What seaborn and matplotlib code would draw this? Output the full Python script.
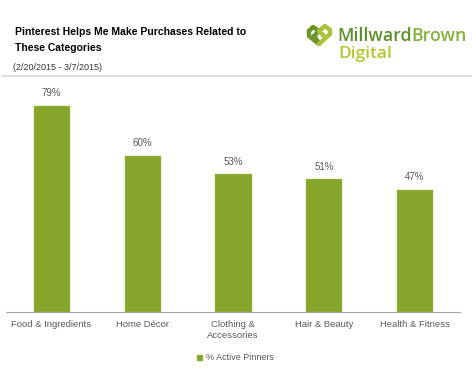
import matplotlib
matplotlib.use("Agg")
import matplotlib.pyplot as plt
import seaborn as sns
import pandas as pd
from matplotlib.lines import Line2D

# ===============================
# Data
# ===============================
categories = ["Food & Ingredients", "Home Décor", "Clothing &\nAccessories",
              "Hair & Beauty", "Health & Fitness"]
values = [79, 60, 53, 51, 47]
series_name = "% Active Pinners"

bar_color = "#86a62b"
text_gray = "#595959"

sns.set_style("white")
plt.rcParams["font.family"] = ["Liberation Sans", "DejaVu Sans"]

df = pd.DataFrame({"category": categories, "value": values})

fig = plt.figure(figsize=(4.72, 3.71), dpi=100)
ax = fig.add_axes([6 / 472, 1 - 312 / 371, 454 / 472, 232 / 371])

sns.barplot(data=df, x="category", y="value", color=bar_color, saturation=1, width=0.41,
            edgecolor="#eef2dc", linewidth=0.8, label=series_name, ax=ax)

ax.set_ylim(0, 88.5)
ax.set_xlim(-0.5, len(categories) - 0.5)
ax.set_xlabel("")
ax.set_ylabel("")
ax.set_yticks([])
for s in ["top", "right", "left"]:
    ax.spines[s].set_visible(False)
ax.spines["bottom"].set_color("#a6a6a6")
ax.spines["bottom"].set_linewidth(0.8)

# category separators as ticks
ax.set_xticks([i - 0.5 for i in range(len(categories) + 1)], minor=True)
ax.tick_params(axis="x", which="minor", length=4, color="#a6a6a6", width=0.8, direction="in")
ax.tick_params(axis="x", which="major", length=0, pad=6, labelsize=6.8, labelcolor=text_gray)

for i, v in enumerate(values):
    ax.text(i, v + 2.5, f"{v}%", ha="center", va="bottom", fontsize=7, color=text_gray)

leg = ax.legend(loc="center", bbox_to_anchor=(229 / 454, -46 / 232), frameon=False,
                fontsize=6.5, handlelength=0.8, handleheight=0.8, handletextpad=0.3,
                borderpad=0)
for t in leg.get_texts():
    t.set_color(text_gray)

# ===============================
# Header
# ===============================
fig.text(15 / 472, 1 - 32 / 371, "Pinterest Helps Me Make Purchases Related to",
         fontsize=7.5, fontweight="bold", color="black", va="center")
fig.text(15 / 472, 1 - 48 / 371, "These Categories",
         fontsize=7.5, fontweight="bold", color="black", va="center")
fig.text(13 / 472, 1 - 68 / 371, "(2/20/2015 - 3/7/2015)",
         fontsize=6.5, color="#333333", va="center")

fig.add_artist(Line2D([2 / 472, 1], [1 - 76 / 371, 1 - 76 / 371],
                      color="#d9d9d9", linewidth=1.2))


# logo icon (rough heart shape)
def px(x, y):
    return x / 472, 1 - y / 371


xs, ys = zip(*[px(x, y) for x, y in [(309, 31), (313, 27), (319, 31), (314, 36), (319, 43)]])
fig.add_artist(Line2D(xs, ys, color="#6a962b", linewidth=3.2, solid_capstyle="round",
                      solid_joinstyle="round"))
xs, ys = zip(*[px(x, y) for x, y in [(309, 31), (309, 36), (319, 44)]])
fig.add_artist(Line2D(xs, ys, color="#6a962b", linewidth=3.2, solid_capstyle="round"))
xs, ys = zip(*[px(x, y) for x, y in [(319, 44), (330, 34), (330, 30), (325, 26), (319, 31), (324, 36)]])
fig.add_artist(Line2D(xs, ys, color="#a9c23a", linewidth=3.2, solid_capstyle="round",
                      solid_joinstyle="round"))

t1 = fig.text(337 / 472, 1 - 36 / 371, "Millward", fontsize=12.8, fontfamily="Open Sans",
              fontweight="semibold", color="#5e8f2c", va="center")
fig.canvas.draw()
bb = t1.get_window_extent()
fig.text(bb.x1 / fig.bbox.width, 1 - 36 / 371, "Brown", fontsize=12.8, fontfamily="Open Sans",
         fontweight="semibold", color="#86b03a", va="center")
fig.text(338 / 472, 1 - 54 / 371, "Digital", fontsize=12.5, fontfamily="Open Sans",
         fontweight="semibold", color="#b0c72e", va="center")

fig.savefig("out.png", dpi=100)
